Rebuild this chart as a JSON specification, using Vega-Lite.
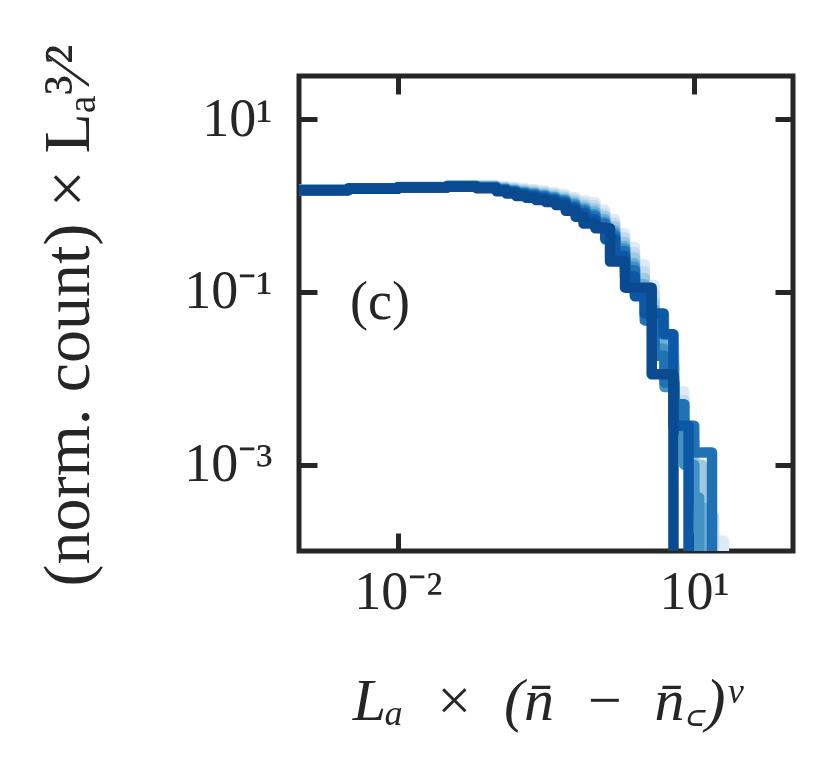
{
  "$schema": "https://vega.github.io/schema/vega-lite/v6.json",
  "width": 494,
  "height": 475,
  "autosize": {"type": "none"},
  "padding": {"left": 299, "top": 76, "right": 37, "bottom": 223},
  "background": "white",
  "config": {
    "view": {"stroke": "#262626", "strokeWidth": 5},
    "font": "Liberation Serif",
    "axis": {
      "domain": false,
      "grid": false,
      "tickColor": "#262626",
      "tickWidth": 5,
      "tickSize": -18,
      "labelFont": "Liberation Serif",
      "labelFontSize": 54,
      "labelColor": "#262626",
      "titleFont": "Liberation Serif",
      "titleColor": "#262626",
      "titleFontWeight": "normal"
    }
  },
  "layer": [
    {
      "data": {
        "values": [
          {"s": "s1", "x": 0.0009, "y": 1.514}, {"s": "s1", "x": 0.003162, "y": 1.585}, {"s": "s1", "x": 0.01, "y": 1.641}, {"s": "s1", "x": 0.03162, "y": 1.718}, {"s": "s1", "x": 0.0631, "y": 1.718}, {"s": "s1", "x": 0.1, "y": 1.679}, {"s": "s1", "x": 0.1259, "y": 1.641}, {"s": "s1", "x": 0.1585, "y": 1.585}, {"s": "s1", "x": 0.1995, "y": 1.549}, {"s": "s1", "x": 0.2512, "y": 1.496}, {"s": "s1", "x": 0.3162, "y": 1.429}, {"s": "s1", "x": 0.3981, "y": 1.349}, {"s": "s1", "x": 0.5012, "y": 1.259}, {"s": "s1", "x": 0.631, "y": 1.161}, {"s": "s1", "x": 0.7943, "y": 1.096}, {"s": "s1", "x": 1.0, "y": 0.891}, {"s": "s1", "x": 1.259, "y": 0.692}, {"s": "s1", "x": 1.585, "y": 0.479}, {"s": "s1", "x": 1.995, "y": 0.331}, {"s": "s1", "x": 2.512, "y": 0.209}, {"s": "s1", "x": 3.162, "y": 0.12}, {"s": "s1", "x": 3.981, "y": 0.0562}, {"s": "s1", "x": 5.012, "y": 0.024}, {"s": "s1", "x": 6.31, "y": 0.00708}, {"s": "s1", "x": 7.943, "y": 0.002}, {"s": "s1", "x": 10, "y": 0.000501}, {"s": "s1", "x": 12.59, "y": 0.000178}, {"s": "s1", "x": 15.85, "y": 0.000132}, {"s": "s1", "x": 19.95, "y": 0.000001},

          {"s": "s2", "x": 0.0009, "y": 1.514}, {"s": "s2", "x": 0.003162, "y": 1.585}, {"s": "s2", "x": 0.01, "y": 1.641}, {"s": "s2", "x": 0.03162, "y": 1.706}, {"s": "s2", "x": 0.0631, "y": 1.698}, {"s": "s2", "x": 0.1, "y": 1.644}, {"s": "s2", "x": 0.1259, "y": 1.6}, {"s": "s2", "x": 0.1585, "y": 1.538}, {"s": "s2", "x": 0.1995, "y": 1.496}, {"s": "s2", "x": 0.2512, "y": 1.442}, {"s": "s2", "x": 0.3162, "y": 1.374}, {"s": "s2", "x": 0.3981, "y": 1.294}, {"s": "s2", "x": 0.5012, "y": 1.191}, {"s": "s2", "x": 0.631, "y": 1.086}, {"s": "s2", "x": 0.7943, "y": 1.007}, {"s": "s2", "x": 1.0, "y": 0.813}, {"s": "s2", "x": 1.259, "y": 0.631}, {"s": "s2", "x": 1.585, "y": 0.427}, {"s": "s2", "x": 1.995, "y": 0.288}, {"s": "s2", "x": 2.512, "y": 0.174}, {"s": "s2", "x": 3.162, "y": 0.0955}, {"s": "s2", "x": 3.981, "y": 0.0437}, {"s": "s2", "x": 5.012, "y": 0.0178}, {"s": "s2", "x": 6.31, "y": 0.00562}, {"s": "s2", "x": 7.943, "y": 0.002}, {"s": "s2", "x": 10, "y": 0.000631}, {"s": "s2", "x": 12.59, "y": 0.000251}, {"s": "s2", "x": 15.85, "y": 0.000001},

          {"s": "s3", "x": 0.0009, "y": 1.514}, {"s": "s3", "x": 0.003162, "y": 1.581}, {"s": "s3", "x": 0.01, "y": 1.637}, {"s": "s3", "x": 0.03162, "y": 1.698}, {"s": "s3", "x": 0.0631, "y": 1.679}, {"s": "s3", "x": 0.1, "y": 1.611}, {"s": "s3", "x": 0.1259, "y": 1.556}, {"s": "s3", "x": 0.1585, "y": 1.489}, {"s": "s3", "x": 0.1995, "y": 1.445}, {"s": "s3", "x": 0.2512, "y": 1.387}, {"s": "s3", "x": 0.3162, "y": 1.318}, {"s": "s3", "x": 0.3981, "y": 1.239}, {"s": "s3", "x": 0.5012, "y": 1.127}, {"s": "s3", "x": 0.631, "y": 1.016}, {"s": "s3", "x": 0.7943, "y": 0.923}, {"s": "s3", "x": 1.0, "y": 0.759}, {"s": "s3", "x": 1.259, "y": 0.575}, {"s": "s3", "x": 1.585, "y": 0.38}, {"s": "s3", "x": 1.995, "y": 0.251}, {"s": "s3", "x": 2.512, "y": 0.145}, {"s": "s3", "x": 3.162, "y": 0.0759}, {"s": "s3", "x": 3.981, "y": 0.0355}, {"s": "s3", "x": 5.012, "y": 0.0141}, {"s": "s3", "x": 6.31, "y": 0.00447}, {"s": "s3", "x": 7.943, "y": 0.00178}, {"s": "s3", "x": 10, "y": 0.001}, {"s": "s3", "x": 12.02, "y": 0.000001},

          {"s": "s4", "x": 0.0009, "y": 1.514}, {"s": "s4", "x": 0.003162, "y": 1.578}, {"s": "s4", "x": 0.01, "y": 1.633}, {"s": "s4", "x": 0.03162, "y": 1.687}, {"s": "s4", "x": 0.0631, "y": 1.656}, {"s": "s4", "x": 0.1, "y": 1.578}, {"s": "s4", "x": 0.1259, "y": 1.517}, {"s": "s4", "x": 0.1585, "y": 1.445}, {"s": "s4", "x": 0.1995, "y": 1.396}, {"s": "s4", "x": 0.2512, "y": 1.337}, {"s": "s4", "x": 0.3162, "y": 1.268}, {"s": "s4", "x": 0.3981, "y": 1.186}, {"s": "s4", "x": 0.5012, "y": 1.067}, {"s": "s4", "x": 0.631, "y": 0.948}, {"s": "s4", "x": 0.7943, "y": 0.851}, {"s": "s4", "x": 1.0, "y": 0.692}, {"s": "s4", "x": 1.259, "y": 0.513}, {"s": "s4", "x": 1.585, "y": 0.339}, {"s": "s4", "x": 1.995, "y": 0.214}, {"s": "s4", "x": 2.512, "y": 0.123}, {"s": "s4", "x": 3.162, "y": 0.0631}, {"s": "s4", "x": 3.981, "y": 0.0282}, {"s": "s4", "x": 5.012, "y": 0.01}, {"s": "s4", "x": 6.31, "y": 0.00316}, {"s": "s4", "x": 7.943, "y": 0.001}, {"s": "s4", "x": 10, "y": 0.000316}, {"s": "s4", "x": 12.59, "y": 0.000001},

          {"s": "s5", "x": 0.0009, "y": 1.51}, {"s": "s5", "x": 0.003162, "y": 1.574}, {"s": "s5", "x": 0.01, "y": 1.629}, {"s": "s5", "x": 0.03162, "y": 1.683}, {"s": "s5", "x": 0.0631, "y": 1.644}, {"s": "s5", "x": 0.1, "y": 1.556}, {"s": "s5", "x": 0.1259, "y": 1.489}, {"s": "s5", "x": 0.1585, "y": 1.413}, {"s": "s5", "x": 0.1995, "y": 1.365}, {"s": "s5", "x": 0.2512, "y": 1.303}, {"s": "s5", "x": 0.3162, "y": 1.236}, {"s": "s5", "x": 0.3981, "y": 1.151}, {"s": "s5", "x": 0.5012, "y": 1.028}, {"s": "s5", "x": 0.631, "y": 0.908}, {"s": "s5", "x": 0.7943, "y": 0.794}, {"s": "s5", "x": 1.0, "y": 0.646}, {"s": "s5", "x": 1.259, "y": 0.479}, {"s": "s5", "x": 1.585, "y": 0.316}, {"s": "s5", "x": 1.995, "y": 0.195}, {"s": "s5", "x": 2.512, "y": 0.107}, {"s": "s5", "x": 3.162, "y": 0.0537}, {"s": "s5", "x": 3.981, "y": 0.0219}, {"s": "s5", "x": 5.012, "y": 0.00794}, {"s": "s5", "x": 6.31, "y": 0.00251}, {"s": "s5", "x": 7.943, "y": 0.001}, {"s": "s5", "x": 10, "y": 0.000417}, {"s": "s5", "x": 11.22, "y": 0.000001},

          {"s": "s6", "x": 0.0009, "y": 1.51}, {"s": "s6", "x": 0.003162, "y": 1.574}, {"s": "s6", "x": 0.01, "y": 1.629}, {"s": "s6", "x": 0.03162, "y": 1.675}, {"s": "s6", "x": 0.0631, "y": 1.629}, {"s": "s6", "x": 0.1, "y": 1.535}, {"s": "s6", "x": 0.1259, "y": 1.466}, {"s": "s6", "x": 0.1585, "y": 1.387}, {"s": "s6", "x": 0.1995, "y": 1.334}, {"s": "s6", "x": 0.2512, "y": 1.271}, {"s": "s6", "x": 0.3162, "y": 1.202}, {"s": "s6", "x": 0.3981, "y": 1.119}, {"s": "s6", "x": 0.5012, "y": 0.991}, {"s": "s6", "x": 0.631, "y": 0.867}, {"s": "s6", "x": 0.7943, "y": 0.755}, {"s": "s6", "x": 1.0, "y": 0.617}, {"s": "s6", "x": 1.259, "y": 0.447}, {"s": "s6", "x": 1.585, "y": 0.295}, {"s": "s6", "x": 1.995, "y": 0.178}, {"s": "s6", "x": 2.512, "y": 0.0955}, {"s": "s6", "x": 3.162, "y": 0.0468}, {"s": "s6", "x": 3.981, "y": 0.0182}, {"s": "s6", "x": 5.012, "y": 0.00891}, {"s": "s6", "x": 6.31, "y": 0.00501}, {"s": "s6", "x": 7.943, "y": 0.00282}, {"s": "s6", "x": 10, "y": 0.00138}, {"s": "s6", "x": 15.14, "y": 0.000001},

          {"s": "s7", "x": 0.0009, "y": 1.507}, {"s": "s7", "x": 0.003162, "y": 1.57}, {"s": "s7", "x": 0.01, "y": 1.626}, {"s": "s7", "x": 0.03162, "y": 1.663}, {"s": "s7", "x": 0.0631, "y": 1.611}, {"s": "s7", "x": 0.1, "y": 1.503}, {"s": "s7", "x": 0.1259, "y": 1.426}, {"s": "s7", "x": 0.1585, "y": 1.343}, {"s": "s7", "x": 0.1995, "y": 1.288}, {"s": "s7", "x": 0.2512, "y": 1.222}, {"s": "s7", "x": 0.3162, "y": 1.156}, {"s": "s7", "x": 0.3981, "y": 1.072}, {"s": "s7", "x": 0.5012, "y": 0.938}, {"s": "s7", "x": 0.631, "y": 0.811}, {"s": "s7", "x": 0.7943, "y": 0.692}, {"s": "s7", "x": 1.0, "y": 0.562}, {"s": "s7", "x": 1.259, "y": 0.407}, {"s": "s7", "x": 1.585, "y": 0.263}, {"s": "s7", "x": 1.995, "y": 0.151}, {"s": "s7", "x": 2.512, "y": 0.0891}, {"s": "s7", "x": 3.162, "y": 0.0562}, {"s": "s7", "x": 4.898, "y": 0.0324}, {"s": "s7", "x": 6.166, "y": 0.00282}, {"s": "s7", "x": 8.77, "y": 0.000001},

          {"s": "s8", "x": 0.0009, "y": 1.507}, {"s": "s8", "x": 0.003162, "y": 1.567}, {"s": "s8", "x": 0.01, "y": 1.622}, {"s": "s8", "x": 0.03162, "y": 1.652}, {"s": "s8", "x": 0.0631, "y": 1.585}, {"s": "s8", "x": 0.1, "y": 1.462}, {"s": "s8", "x": 0.1259, "y": 1.377}, {"s": "s8", "x": 0.1585, "y": 1.288}, {"s": "s8", "x": 0.1995, "y": 1.23}, {"s": "s8", "x": 0.2512, "y": 1.161}, {"s": "s8", "x": 0.3162, "y": 1.096}, {"s": "s8", "x": 0.3981, "y": 1.012}, {"s": "s8", "x": 0.5012, "y": 0.871}, {"s": "s8", "x": 0.631, "y": 0.741}, {"s": "s8", "x": 0.7586, "y": 0.621}, {"s": "s8", "x": 1.0, "y": 0.545}, {"s": "s8", "x": 1.406, "y": 0.225}, {"s": "s8", "x": 1.995, "y": 0.112}, {"s": "s8", "x": 3.715, "y": 0.0111}, {"s": "s8", "x": 6.166, "y": 0.000001}
        ]
      },
      "mark": {"type": "line", "interpolate": "step-after", "strokeWidth": 10.5, "strokeCap": "round", "strokeJoin": "round", "clip": true},
      "encoding": {
        "x": {
          "field": "x", "type": "quantitative",
          "scale": {"type": "log", "domain": [0.001, 100], "nice": false},
          "axis": {
            "orient": "bottom", "values": [0.01, 10],
            "labelExpr": "datum.value >= 5 ? '10¹' : datum.value >= 0.05 ? '10⁻¹' : datum.value >= 0.005 ? '10⁻²' : '10⁻³'",
            "labelPadding": 32,
            "title": "L\u2090\u2002\u00d7\u2002(n\u0304\u2002\u2212\u2002n\u0304\ua700)\u1d5b",
            "titleFontSize": 60, "titleFontStyle": "italic",
            "titleX": 248, "titleY": 168, "titleAlign": "center", "titleBaseline": "alphabetic"
          }
        },
        "y": {
          "field": "y", "type": "quantitative",
          "scale": {"type": "log", "domain": [0.0001, 31.62], "nice": false},
          "axis": {
            "orient": "left", "values": [10, 0.1, 0.001],
            "labelExpr": "datum.value >= 5 ? '10¹' : datum.value >= 0.05 ? '10⁻¹' : datum.value >= 0.005 ? '10⁻²' : '10⁻³'",
            "labelPadding": 45,
            "title": "(norm. count) × Lₐ³⁄²",
            "titleFontSize": 66,
            "titleX": -211, "titleY": 239, "titleAlign": "center", "titleBaseline": "alphabetic", "titleAngle": -90
          }
        },
        "color": {
          "field": "s", "type": "nominal",
          "scale": {"domain": ["s1", "s2", "s3", "s4", "s5", "s6", "s7", "s8"], "range": ["#deebf7", "#c6dbef", "#9ecae1", "#6baed6", "#4292c6", "#2171b5", "#0d58a6", "#0a4a90"]},
          "legend": null
        }
      }
    },
    {
      "data": {"values": [{"x": 0.0066, "y": 0.074, "t": "(c)"}]},
      "mark": {"type": "text", "fontSize": 54, "font": "Liberation Serif", "color": "#262626"},
      "encoding": {
        "x": {
          "field": "x", "type": "quantitative",
          "scale": {"type": "log", "domain": [0.001, 100], "nice": false},
          "axis": {"orient": "top", "values": [0.01, 10], "labels": false, "title": null}
        },
        "y": {
          "field": "y", "type": "quantitative",
          "scale": {"type": "log", "domain": [0.0001, 31.62], "nice": false},
          "axis": {"orient": "right", "values": [10, 0.1, 0.001], "labels": false, "title": null}
        },
        "text": {"field": "t", "type": "nominal"}
      }
    }
  ],
  "resolve": {"axis": {"x": "independent", "y": "independent"}}
}
